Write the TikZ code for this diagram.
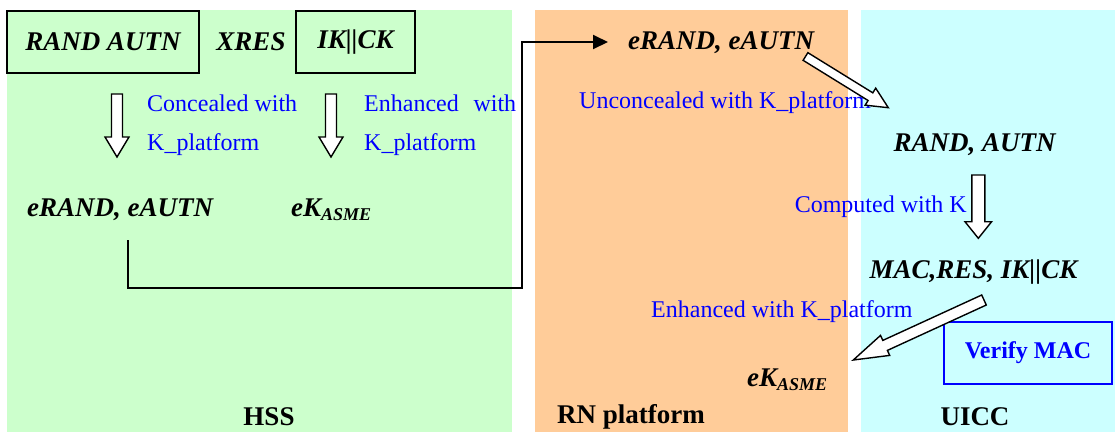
\documentclass[tikz,border=0pt]{standalone}
\usepackage{fontspec}
\setmainfont{Liberation Serif}
\usetikzlibrary{calc,arrows.meta}
\definecolor{hssgreen}{HTML}{CCFFCC}
\definecolor{rnorange}{HTML}{FFCC99}
\definecolor{uicccyan}{HTML}{CCFFFF}
\definecolor{txtblue}{HTML}{0000FF}
% hollow block arrow: from, to, shaft half width, head half width, head length
\newcommand\hollowArrow[5]{%
  \coordinate (hA) at ($(#2)!#5!(#1)$);
  \draw[harrow] ($(#1)!#3!90:(#2)$) -- ($(hA)!#3!90:(#2)$) -- ($(hA)!#4!90:(#2)$) -- (#2)
    -- ($(hA)!#4!-90:(#2)$) -- ($(hA)!#3!-90:(#2)$) -- ($(#1)!#3!-90:(#2)$) -- cycle;}
\tikzset{
  term/.style={font=\fontsize{27bp}{30bp}\selectfont\bfseries\itshape, inner sep=0},
  bluetxt/.style={text=txtblue, font=\fontsize{24bp}{27bp}\selectfont, inner sep=0},
  panellabel/.style={font=\fontsize{27bp}{30bp}\selectfont\bfseries, inner sep=0},
  termbox/.style={draw, line width=1.5bp, minimum height=62bp, inner sep=0},
  harrow/.style={draw=black, fill=white, line width=1.4bp, line join=miter},
  conn/.style={draw=black, line width=2bp, -{Triangle[length=15bp,width=14bp]}},
}
\begin{document}
\begin{tikzpicture}[x=1bp,y=-1bp]
\useasboundingbox (0,0) rectangle (1118,432);
% panels
\fill[hssgreen] (7,10) rectangle (512,432);
\fill[rnorange] (535,10) rectangle (848,432);
\fill[uicccyan] (861,10) rectangle (1115,432);

% HSS
\node[termbox, minimum width=192bp, term] (ra) at (103,42) {RAND AUTN};
\node[term] (xres) at (251,42) {XRES};
\node[termbox, minimum width=119bp, term] (ikck) at (355.5,42) {IK||CK};
\node[bluetxt, anchor=west] (c1) at (147,103) {Concealed with};
\node[bluetxt, anchor=west] (c2) at (147,145) {K\_platform};
\node[bluetxt, anchor=west] (en1) at (364,103) {\makebox[152bp][s]{Enhanced with}};
\node[bluetxt, anchor=west] (en2) at (364,145) {K\_platform};
\node[term, anchor=west] (erand) at (27,210) {eRAND, eAUTN};
\node[term, anchor=west] (ekh) at (291,210) {eK\raisebox{-4bp}{\fontsize{18bp}{18bp}\selectfont ASME}};

\coordinate (a1s) at (117,94);  \coordinate (a1e) at (117,157);
\coordinate (a2s) at (331,94);  \coordinate (a2e) at (331,157);
\hollowArrow{a1s}{a1e}{5.5bp}{12bp}{20bp}
\hollowArrow{a2s}{a2e}{5.5bp}{12bp}{20bp}

% RN platform
\node[term, anchor=west] (rn1) at (628,43) {eRAND, eAUTN};
\node[bluetxt, anchor=west] (unc) at (579,103) {Unconcealed with K\_platform};
\node[term, anchor=west] (rnk) at (747,380) {eK\raisebox{-4bp}{\fontsize{18bp}{18bp}\selectfont ASME}};

% connector
\coordinate (cs) at (128,240);
\coordinate (cm) at (522,288);
\coordinate (ct) at (608,42);
\draw[conn] (cs) |- (cm) |- (ct);

% UICC
\node[term] (ua) at (974.5,145) {RAND, AUTN};
\node[bluetxt, anchor=east] (comp) at (967,207) {Computed with K};
\node[term] (mac) at (973.5,272) {MAC,RES, IK||CK};
\node[bluetxt, anchor=west] (enk) at (651,312) {Enhanced with K\_platform};
\node[draw=txtblue, line width=1.5bp, minimum width=168bp, minimum height=62bp, inner sep=0,
      text=txtblue, font=\fontsize{24bp}{26bp}\selectfont\bfseries] (vm) at (1028,353) {Verify MAC};

\coordinate (d1s) at (805.5,56.5); \coordinate (d1e) at (888.3,107.7);
\hollowArrow{d1s}{d1e}{4.5bp}{10bp}{21bp}
\coordinate (a3s) at (978.3,175); \coordinate (a3e) at (978.3,238.3);
\hollowArrow{a3s}{a3e}{6.5bp}{13.3bp}{16.6bp}
\coordinate (d2s) at (984,300); \coordinate (d2e) at (853.3,360);
\hollowArrow{d2s}{d2e}{5.5bp}{11bp}{35bp}

% panel labels
\node[panellabel] (lh) at (269,417) {HSS};
\node[panellabel] (lr) at (631,417) {RN platform};
\node[panellabel] (lu) at (975,417) {UICC};
\end{tikzpicture}
\end{document}
